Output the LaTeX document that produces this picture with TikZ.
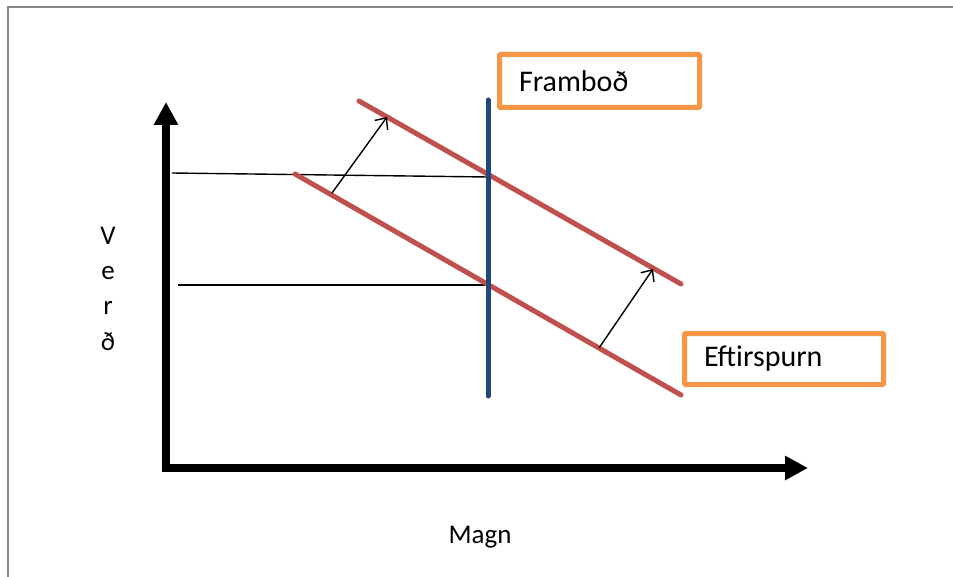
\documentclass[tikz,border=0pt]{standalone}
\usepackage{fontspec}
\setmainfont{Carlito}
\usetikzlibrary{arrows.meta}
\definecolor{redline}{HTML}{C0504D}
\definecolor{blueline}{HTML}{1F497D}
\definecolor{orangebox}{HTML}{F79646}
\definecolor{framegray}{HTML}{898989}
\tikzset{
  axisline/.style={line width=8pt},
  curve/.style={line width=5pt, draw=redline, line cap=round},
  supply/.style={line width=5pt, draw=blueline, line cap=round},
  guide/.style={line width=1.4pt, draw=black},
  shiftarrow/.style={line width=1.4pt, draw=black, -{Straight Barb[length=9pt,width=16pt,line width=1.4pt]}},
  obox/.style={draw=orangebox, line width=5pt, fill=white, rounded corners=1pt,
     font=\fontsize{30}{33}\selectfont, align=left, inner xsep=19.5pt},
  lbl/.style={font=\fontsize{27}{30}\selectfont, inner sep=0pt}
}
\begin{document}
\begin{tikzpicture}[x=1pt,y=-1pt]
\useasboundingbox (0,0) rectangle (953,577);
% frame
\draw[framegray, line width=2.2pt] (8,577) -- (8,7) -- (953,7);
% axes
\coordinate (O) at (166,468);
\coordinate (ytip) at (166,102);
\coordinate (xtip) at (808,468);
\draw[axisline, {Triangle[length=23pt,width=23pt]}-{Triangle[length=23pt,width=23pt]}] (ytip) -- (O) -- (xtip);
% guide lines
\coordinate (g1s) at (172,173);
\coordinate (g1e) at (488,177);
\coordinate (g2s) at (178,285);
\coordinate (g2e) at (488,285);
\draw[guide] (g1s) -- (g1e);
\draw[guide] (g2s) -- (g2e);
% demand curves
\coordinate (d1s) at (359,101);
\coordinate (d1e) at (681,284);
\coordinate (d0s) at (295,174);
\coordinate (d0e) at (681,395);
\draw[curve] (d1s) -- (d1e);
\draw[curve] (d0s) -- (d0e);
% supply
\coordinate (ss) at (488,100);
\coordinate (se) at (488,396);
\draw[supply] (ss) -- (se);
% shift arrows
\coordinate (a1s) at (332,193);
\coordinate (a1e) at (387,117);
\coordinate (a2s) at (599,348);
\coordinate (a2e) at (653,269);
\draw[shiftarrow] (a1s) -- (a1e);
\draw[shiftarrow] (a2s) -- (a2e);
% labels
\node[obox, minimum width=200pt, minimum height=53pt, text width=161pt] (fb) at (599.5,81) {Frambo\dh};
\node[obox, minimum width=199pt, minimum height=51pt, text width=160pt] (ef) at (784,359) {Eftirspurn};
\node[lbl, anchor=base] (magn) at (480,543) {Magn};
\node[lbl, anchor=base] (v1) at (108,245) {V};
\node[lbl, anchor=base] (v2) at (108,280) {e};
\node[lbl, anchor=base] (v3) at (108,315) {r};
\node[lbl, anchor=base] (v4) at (108,350) {\dh};
\end{tikzpicture}
\end{document}
